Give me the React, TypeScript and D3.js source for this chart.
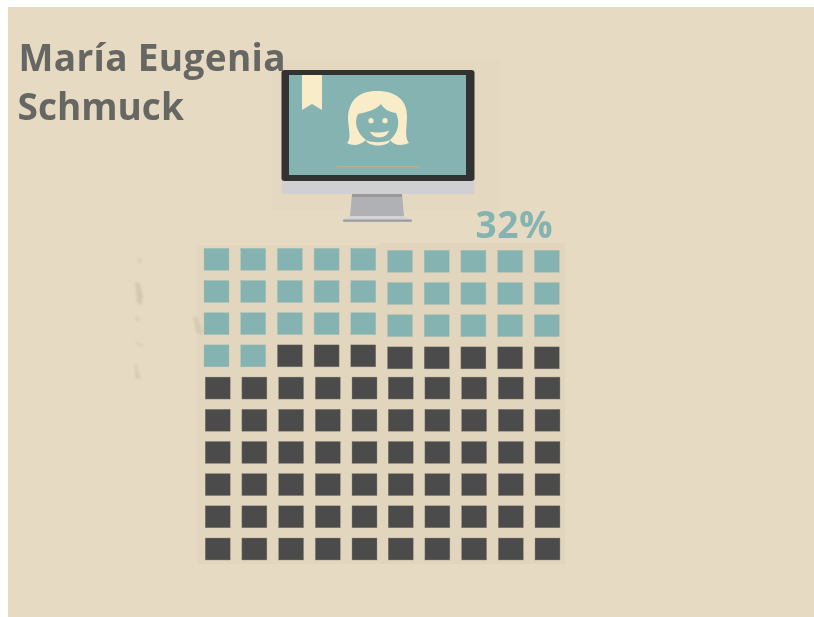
import React from "react";
import * as d3 from "d3";

const title = ["María Eugenia", "Schmuck"];
const percent = 32;
const columns = d3.range(10);
const rows = d3.range(10);

const W = 814, H = 617;
const TEAL = "#85b3b1", DARK = "#4b4b4b", BG = "#e6dac2", CREAM = "#f9ecc8";

const x = d3.scaleLinear().domain([0, 9]).range([204, 534.3]);
const y = d3.scaleLinear().domain([0, 9]).range([248.3, 538]);
const cellW = 25, cellH = 22;

const dx = (c: number, r: number) => (r >= 4 ? (c >= 5 ? 0.7 : 1.2) : 0);
const dy = (c: number, r: number) => (r < 4 && c >= 5 ? 2 : 0);

export default function App() {
  const cells = rows.flatMap((r) => columns.map((c) => ({ r, c, filled: r * 10 + c < percent })));
  return (
    <svg width={W} height={H} style={{ position: "absolute", left: 0, top: 0, display: "block", background: "#fff" }}>
      <defs>
        <filter id="soft" x="-5%" y="-5%" width="110%" height="110%"><feGaussianBlur stdDeviation="0.4" /></filter>
        <filter id="soft2" x="-30%" y="-30%" width="160%" height="160%"><feGaussianBlur stdDeviation="1" /></filter>
      </defs>
      <rect x={8} y={7} width={806} height={610} fill={BG} />
      {/* texture panels */}
      <rect x={197} y={245} width={183} height={319} fill="#e0d5bc" opacity={0.65} />
      <rect x={380} y={243} width={185} height={321} fill="#dfd3ba" opacity={0.7} />
      <rect x={272} y={60} width={228} height={150} fill="#e2d7be" opacity={0.45} />
      <g fill="#d3c8b0" filter="url(#soft2)">
        <path d="M135 281 L140 284 L143 297 L141 305 L137 302 Z" />
        <path d="M135 316 l4 1 l1 5 l-4 -1 Z" opacity={0.7} />
        <path d="M135 341 l8 3 l1 3 l-8 -3 Z" opacity={0.6} />
        <path d="M135 362 l3 8 l3 9 l-6 0 Z" opacity={0.75} />
        <path d="M193 316 l4 1 l6 15 l-2 3 l-5 -3 Z" opacity={0.85} />
        <path d="M137 259 l4 -1 l1 4 l-4 2 Z" opacity={0.6} />
      </g>

      {/* monitor */}
      <g filter="url(#soft)">
        <path d="M352 194 H402 L404 216 H350 Z" fill="#b0b1b5" />
        <rect x={352} y={194} width={50} height={3} fill="#9a9a9c" />
        <path d="M349 216 H405 L412 220 V221.5 H343 V220 Z" fill="#d4d4d4" />
        <rect x={343} y={219.5} width={69} height={2.2} rx={1} fill="#9c9c9f" />
        <path d="M281.5 178 H474.5 V190 a4 4 0 0 1 -4 4 H285.5 a4 4 0 0 1 -4 -4 Z" fill="#d0d0d2" />
        <rect x={281.5} y={70} width={193} height={111} rx={3} fill="#333333" />
        <rect x={289} y={75} width={177} height={100} fill={TEAL} />
        <path d="M302 75 H322 V110 L312 104 L302 110 Z" fill={CREAM} />
        <path
          d="M347 143 C352 138 348 128 348 117 C349 101 358 91 377 91 C397 91 407 101 407 116 C407 128 404 137 409 143 C402 146 394 146 390 140 C399 132 400 122 396 113 C388 112 383 108 381 104 C376 110 367 112 358 114 C354 122 356 132 366 140 C360 146 352 146 347 143 Z"
          fill={CREAM}
        />
        <path d="M366 140 C371 143 384 143 390 140 C390 143 385 145.5 378 145.5 C372 145.5 366 143 366 140 Z" fill={CREAM} />
        <circle cx={371} cy={120.7} r={2.6} fill={CREAM} />
        <circle cx={385} cy={120.7} r={2.6} fill={CREAM} />
        <path d="M370 131.5 C375 133 383 133 389 130.5 C387 139 373 140 370 131.5 Z" fill={CREAM} />
        <rect x={337} y={166} width={82} height={1.2} fill="#b8b08f" />
      </g>

      {/* title */}
      <g fontFamily="'Open Sans', sans-serif" fontWeight={700} fontSize={37} fill="#666664" filter="url(#soft)">
        <text x={18.5} y={71} letterSpacing={0.33}>{title[0]}</text>
        <text x={17.5} y={120}>{title[1]}</text>
      </g>
      <text x={475.5} y={238} letterSpacing={0.7} fontFamily="'Open Sans', sans-serif" fontWeight={700} fontSize={37} fill={TEAL} filter="url(#soft)">
        {percent}%
      </text>

      {/* waffle */}
      {cells.map(({ r, c, filled }) => (
        <rect
          key={`${r}-${c}`}
          x={x(c) + dx(c, r)}
          y={y(r) + dy(c, r)}
          width={cellW}
          height={cellH}
          fill={filled ? TEAL : DARK}
          stroke={filled ? "#a9c0b4" : "#8f8a7e"}
          strokeWidth={0.4}
        />
      ))}
    </svg>
  );
}
